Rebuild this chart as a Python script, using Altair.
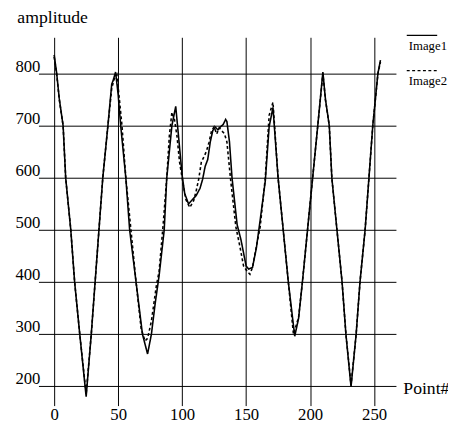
import altair as alt
import pandas as pd

series_names = ["Image1", "Image2"]
x_ticks = [0, 50, 100, 150, 200, 250]
y_ticks = [200, 300, 400, 500, 600, 700, 800]

img1_x = [0, 2, 4, 7, 9, 13, 16, 20, 25, 29, 32, 35, 38, 42, 45, 46, 48, 50, 52, 56,
          59, 64, 69, 73, 76, 79, 82, 86, 88, 92, 95, 97, 100, 102, 105, 108, 111, 114,
          116, 118, 120, 122, 124, 126, 128, 130, 132, 134, 135, 137, 139, 143, 146, 150,
          152, 155, 158, 161, 165, 168, 171, 175, 179, 183, 188, 191, 194, 198, 202, 206,
          210, 212, 215, 217, 221, 225, 228, 232, 236, 239, 243, 246, 249, 253, 255]
img1_y = [836, 800, 752, 700, 600, 500, 400, 300, 180, 300, 400, 500, 600, 700, 780, 786,
          803, 760, 700, 600, 500, 400, 300, 262, 300, 360, 412, 500, 600, 700, 737, 685,
          605, 570, 550, 558, 566, 580, 597, 622, 635, 669, 691, 697, 692, 698, 702, 712,
          708, 669, 600, 510, 481, 431, 425, 428, 465, 519, 594, 698, 735, 600, 500, 400,
          296, 330, 400, 500, 600, 700, 803, 751, 700, 600, 500, 400, 300, 199, 300, 400,
          500, 600, 700, 800, 826]

img2_x = [0, 2, 4, 7, 9, 13, 16, 20, 25, 29, 32, 35, 38, 42, 45, 47, 49, 51, 53, 56,
          60, 64, 68, 71, 73, 76, 80, 82, 85, 88, 90, 92, 94, 96, 98, 101, 103, 106, 109,
          111, 113, 115, 117, 119, 121, 123, 125, 127, 129, 131, 133, 135, 138, 142, 145,
          148, 151, 153, 155, 157, 161, 165, 168, 171, 175, 179, 183, 187, 191, 194, 198,
          202, 206, 210, 212, 215, 217, 221, 225, 228, 232, 236, 239, 243, 246, 249, 253, 255]
img2_y = [832, 798, 750, 700, 600, 500, 400, 300, 185, 300, 400, 500, 600, 700, 772, 790,
          798, 750, 700, 600, 500, 400, 310, 287, 292, 325, 395, 420, 505, 600, 680, 726,
          712, 680, 630, 585, 558, 543, 556, 575, 598, 630, 640, 651, 668, 690, 698, 684,
          696, 690, 685, 669, 594, 506, 470, 431, 420, 415, 428, 455, 506, 600, 720, 745,
          600, 500, 400, 300, 332, 400, 500, 600, 700, 800, 750, 700, 600, 500, 400, 300,
          202, 300, 400, 500, 600, 700, 800, 822]

df = pd.concat([
    pd.DataFrame({"point": img1_x, "amplitude": img1_y, "series": series_names[0]}),
    pd.DataFrame({"point": img2_x, "amplitude": img2_y, "series": series_names[1]}),
], ignore_index=True)

FONT = "Times New Roman, Liberation Serif, Times, serif"

common_axis = dict(grid=True, gridColor="black", gridOpacity=1, gridWidth=1,
                   domain=False, ticks=False, tickSize=0,
                   labelFont=FONT, labelColor="black", labelFontSize=17,
                   titleFont=FONT, titleColor="black", titleFontSize=18,
                   titleFontWeight="normal", titleBaseline="alphabetic",
                   titleAlign="left")

chart = alt.Chart(df).mark_line(strokeWidth=1.6, color="black").encode(
    x=alt.X("point:Q",
            scale=alt.Scale(domain=[-12.28, 267.1], nice=False, zero=False),
            axis=alt.Axis(values=x_ticks, labelPadding=1, title="Point#",
                          titleX=371, titleY=-12, **common_axis)),
    y=alt.Y("amplitude:Q",
            scale=alt.Scale(domain=[162.9, 869.7], nice=False, zero=False),
            axis=alt.Axis(values=y_ticks, labelPadding=-1.5, labelBaseline="alphabetic",
                          labelOffset=-2.5, title="amplitude", titleAngle=0,
                          titleX=-22, titleY=-15, **common_axis)),
    strokeDash=alt.StrokeDash(
        "series:N",
        scale=alt.Scale(domain=series_names, range=[[1, 0], [3, 2.5]]),
        legend=alt.Legend(title=None, orient="none", legendX=374, legendY=-18.5,
                          symbolType="stroke", symbolSize=961, symbolStrokeWidth=1.3,
                          symbolStrokeColor="black", labelOffset=9, symbolOffset=0,
                          labelAlign="right", labelLimit=200,
                          labelBaseline="alphabetic", labelFontSize=13, labelFont=FONT,
                          labelColor="black", rowPadding=1, padding=0,
                          labelExpr="['', datum.label]")),
).properties(
    width=364, height=375,
    autosize=alt.AutoSizeParams(type="none"),
    padding={"left": 31, "top": 26, "right": 53, "bottom": 20},
).configure_view(stroke=None)

chart.save("out.html", embed_options={"renderer": "svg", "actions": False})
